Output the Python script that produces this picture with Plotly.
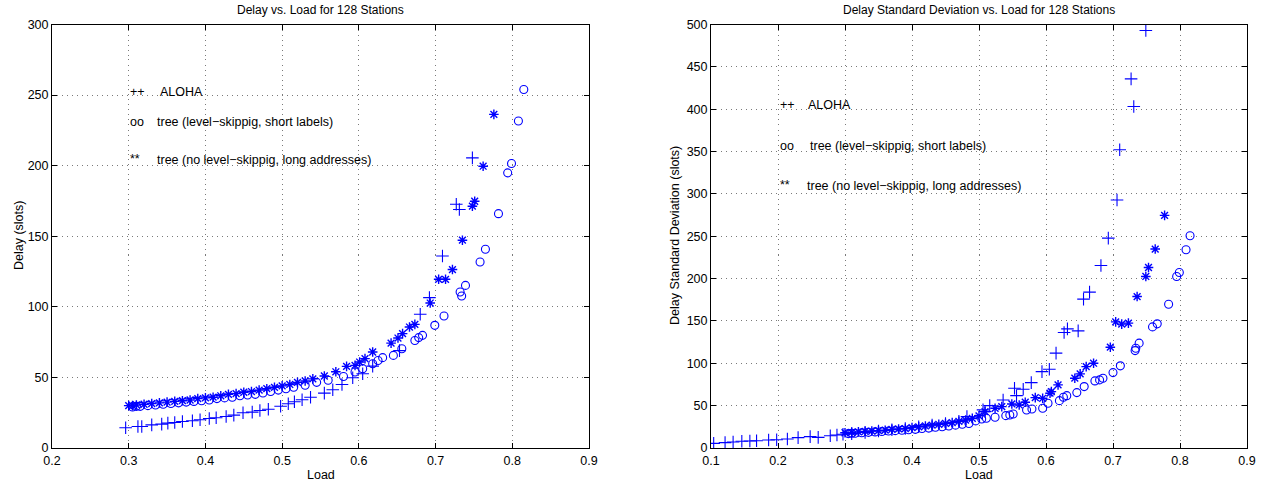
import plotly.graph_objects as go

# ---------------- Left panel: Delay vs Load ----------------
aloha_load_L = [0.296, 0.312, 0.317, 0.330, 0.343, 0.351, 0.360, 0.370, 0.383, 0.393, 0.405, 0.414,
                0.427, 0.437, 0.449, 0.461, 0.471, 0.482, 0.498, 0.508, 0.516, 0.526, 0.537, 0.555,
                0.566, 0.578, 0.592, 0.605, 0.618, 0.653, 0.680, 0.692, 0.709, 0.727, 0.731, 0.748]
aloha_delay_L = [14.3, 15.2, 15.2, 16.4, 16.9, 17.6, 18.1, 18.8, 19.3, 20.0, 20.9, 21.4,
                 22.3, 23.3, 25.0, 25.4, 26.6, 27.5, 29.6, 31.3, 32.8, 34.2, 36.0, 38.9,
                 41.3, 45.0, 49.8, 52.6, 58.0, 69.0, 94.7, 106.5, 136.0, 172.7, 169.0, 205.5]

skip_load_L = [0.305, 0.31, 0.315, 0.325, 0.335, 0.345, 0.355, 0.365, 0.375, 0.385, 0.395, 0.405,
               0.415, 0.425, 0.435, 0.445, 0.455, 0.465, 0.475, 0.485, 0.495, 0.505, 0.515, 0.53,
               0.545, 0.56, 0.58, 0.595, 0.605, 0.618, 0.625, 0.631, 0.645, 0.656, 0.673, 0.678,
               0.683, 0.699, 0.711, 0.732, 0.734, 0.739, 0.758, 0.765, 0.782, 0.794, 0.799, 0.808, 0.815]
skip_delay_L = [29, 29.5, 29.5, 30, 30.5, 31, 31.5, 32, 32.5, 33, 33.5, 34,
                35, 35.5, 36, 37, 37.5, 38, 39, 40, 41, 42, 43, 44.5,
                46.5, 48, 50.7, 53.8, 56.2, 59.7, 62, 64, 65.6, 70.3, 76.2, 78.2,
                79.8, 86.9, 93.5, 110.5, 107.7, 115.2, 131.8, 140.8, 166, 194.9, 201.5, 231.6, 254]

noskip_load_L = [0.30, 0.305, 0.31, 0.32, 0.33, 0.34, 0.35, 0.36, 0.37, 0.38, 0.39, 0.40,
                 0.41, 0.42, 0.43, 0.44, 0.45, 0.46, 0.47, 0.48, 0.49, 0.50, 0.51, 0.52,
                 0.53, 0.54, 0.555, 0.57, 0.584, 0.595, 0.601, 0.608, 0.618, 0.642, 0.651, 0.657,
                 0.666, 0.673, 0.693, 0.704, 0.713, 0.722, 0.735, 0.748, 0.751, 0.762, 0.776]
noskip_delay_L = [30, 30, 30.5, 31, 31.5, 32, 32.5, 33, 33.5, 34, 35, 35.5,
                  36, 37, 38, 38.5, 39.5, 40, 41, 42, 43, 44, 45, 46.5,
                  47.5, 49, 51, 54, 57.8, 58.5, 60.9, 63.3, 68, 74.3, 77.9, 81,
                  85.7, 87.6, 102.7, 119.5, 119.5, 126.4, 147.2, 171.3, 174.8, 199.6, 236.3]

# ---------------- Right panel: Delay std vs Load ----------------
aloha_load_R = [0.104, 0.121, 0.133, 0.146, 0.158, 0.168, 0.186, 0.198, 0.214, 0.230, 0.248, 0.260,
                0.278, 0.288, 0.297, 0.31, 0.33, 0.35, 0.37, 0.39, 0.41, 0.43, 0.45, 0.47, 0.482,
                0.506, 0.509, 0.516, 0.536, 0.553, 0.556, 0.566, 0.578, 0.594, 0.605, 0.615, 0.627,
                0.632, 0.648, 0.656, 0.665, 0.682, 0.693, 0.706, 0.710, 0.727, 0.731, 0.749]
aloha_std_R = [5.5, 6.3, 7.1, 7.9, 8.3, 8.6, 9.5, 9.8, 10.6, 12.2, 13.4, 12.6,
               14.5, 15.4, 16.2, 17, 18.5, 20, 21.5, 23, 25, 27, 29, 31.5, 37,
               45, 43, 50, 56.7, 70.6, 61.8, 69.4, 77.2, 90.2, 93, 112, 136.3,
               140.7, 138.3, 175.8, 184, 215.5, 247.8, 292.8, 352.2, 435.8, 403.1, 492.9]

skip_load_R = [0.305, 0.31, 0.315, 0.325, 0.335, 0.345, 0.355, 0.365, 0.375, 0.385, 0.395, 0.405,
               0.415, 0.425, 0.435, 0.445, 0.455, 0.465, 0.475, 0.485, 0.495, 0.504, 0.511, 0.524,
               0.540, 0.546, 0.551, 0.571, 0.579, 0.595, 0.603, 0.620, 0.626, 0.631, 0.646, 0.657,
               0.673, 0.680, 0.685, 0.700, 0.711, 0.733, 0.734, 0.739, 0.759, 0.766, 0.783, 0.795,
               0.799, 0.809, 0.815]
skip_std_R = [17, 17.5, 17.5, 18, 18.5, 19, 19.5, 20, 20.5, 21, 21.5, 22,
              23, 23.5, 24.5, 25, 26, 27, 28, 29, 32, 34.3, 35.1, 36.3,
              38.2, 39, 40.2, 44.9, 46.1, 46.9, 52.8, 55.9, 59.9, 61.8, 65.4, 72.5,
              79.2, 80.4, 82.4, 89, 97, 115, 117.8, 123.8, 143, 146.6, 169.8, 202.5,
              207.2, 234, 250.6]

noskip_load_R = [0.30, 0.31, 0.32, 0.33, 0.34, 0.35, 0.36, 0.37, 0.38, 0.39, 0.40, 0.41,
                 0.42, 0.43, 0.44, 0.45, 0.46, 0.47, 0.48, 0.49, 0.50, 0.509, 0.524, 0.534,
                 0.549, 0.560, 0.569, 0.584, 0.595, 0.606, 0.608, 0.618, 0.643, 0.651, 0.660, 0.671,
                 0.696, 0.704, 0.713, 0.723, 0.736, 0.749, 0.753, 0.763, 0.777]
noskip_std_R = [18, 18.5, 19, 19.5, 20, 20.5, 21, 22, 22.5, 23, 24, 25,
                26, 27, 28, 29, 30, 31.5, 33, 35, 38, 42.9, 46.9, 48.8,
                52, 50.8, 54, 59.5, 58.7, 64.7, 66.6, 74.5, 82.4, 87.5, 96.1, 100.1,
                119, 148.9, 146.2, 147.4, 178.8, 202.5, 213.1, 234.9, 274.6]

x_ticks_L = [0.2, 0.3, 0.4, 0.5, 0.6, 0.7, 0.8, 0.9]
y_ticks_L = [0, 50, 100, 150, 200, 250, 300]
x_ticks_R = [0.1, 0.2, 0.3, 0.4, 0.5, 0.6, 0.7, 0.8, 0.9]
y_ticks_R = [0, 50, 100, 150, 200, 250, 300, 350, 400, 450, 500]

BLUE = "rgb(0,0,255)"
FONT = "Liberation Sans, Arial, Helvetica, sans-serif"

fig = go.Figure()

def add_series(x, y, symbol, xa, ya, size, lw):
    fig.add_trace(go.Scatter(
        x=x, y=y, mode="markers", xaxis=xa, yaxis=ya, showlegend=False,
        marker=dict(symbol=symbol, size=size, color=BLUE,
                    line=dict(color=BLUE, width=lw))))

add_series(aloha_load_L, aloha_delay_L, "cross-thin-open", "x", "y", 9, 1.1)
add_series(skip_load_L, skip_delay_L, "circle-open", "x", "y", 8, 1.1)
add_series(noskip_load_L, noskip_delay_L, "asterisk-open", "x", "y", 8, 1.4)
add_series(aloha_load_R, aloha_std_R, "cross-thin-open", "x2", "y2", 9, 1.1)
add_series(skip_load_R, skip_std_R, "circle-open", "x2", "y2", 8, 1.1)
add_series(noskip_load_R, noskip_std_R, "asterisk-open", "x2", "y2", 8, 1.4)

W, H = 1264, 487
axis_common = dict(showline=True, linecolor="black", linewidth=1, mirror="ticks",
                   ticks="inside", ticklen=5, tickcolor="black", tickwidth=1,
                   showgrid=True, gridcolor="#7a7a7a", griddash="1px,4px", gridwidth=1,
                   zeroline=False, automargin=False, ticklabeloverflow="allow",
                   tickfont=dict(family=FONT, size=12.5, color="black"))

y_dom = [39 / H, 462.5 / H]
fig.update_layout(
    width=W, height=H, margin=dict(l=0, r=0, t=0, b=0),
    paper_bgcolor="white", plot_bgcolor="white",
    xaxis=dict(domain=[52 / W, 589 / W], range=[0.2, 0.9], tickvals=x_ticks_L,
               ticktext=[f"{v:g}" for v in x_ticks_L], anchor="y", ticklabelstandoff=1, **axis_common),
    yaxis=dict(domain=y_dom, range=[0, 300], tickvals=y_ticks_L, anchor="x", **axis_common),
    xaxis2=dict(domain=[711 / W, 1247 / W], range=[0.1, 0.9], tickvals=x_ticks_R,
                ticktext=[f"{v:g}" for v in x_ticks_R], anchor="y2", ticklabelstandoff=1, **axis_common),
    yaxis2=dict(domain=y_dom, range=[0, 500], tickvals=y_ticks_R, anchor="x2", **axis_common),
)

def txt(x, y, s, xref="paper", yref="paper", xanchor="center", size=12, angle=0, yanchor="middle"):
    fig.add_annotation(x=x, y=y, xref=xref, yref=yref, text=s, showarrow=False,
                       xanchor=xanchor, yanchor=yanchor, textangle=angle,
                       font=dict(family=FONT, size=size, color="black"))

# titles
txt((52 + 589) / 2 / W, 1 - 10 / H, "Delay vs. Load for 128 Stations", size=12)
txt((711 + 1247) / 2 / W, 1 - 10 / H, "Delay Standard Deviation vs. Load for 128 Stations", size=12)
# axis titles
txt((52 + 589) / 2 / W, 1 - 475 / H, "Load", size=12.5)
txt((711 + 1247) / 2 / W, 1 - 475 / H, "Load", size=12.5)
txt(19 / W, 1 - 236 / H, "Delay (slots)", size=12.5, angle=-90)
txt(675 / W, 1 - 236 / H, "Delay Standard Deviation (slots)", size=12.5, angle=-90)

# in-plot legend text (left)
txt(0.299, 252, "++", "x", "y", "left", 12.5)
txt(0.338, 252, "ALOHA", "x", "y", "left", 12.5)
txt(0.299, 231, "oo", "x", "y", "left", 12.5)
txt(0.334, 231, "tree (level\u2212skippig, short labels)", "x", "y", "left", 12.5)
txt(0.299, 205, "**", "x", "y", "left", 12.5)
txt(0.334, 204, "tree (no level\u2212skippig, long addresses)", "x", "y", "left", 12.5)

# in-plot legend text (right)
txt(0.200, 405, "++", "x2", "y2", "left", 12.5)
txt(0.2418, 405, "ALOHA", "x2", "y2", "left", 12.5)
txt(0.200, 356, "oo", "x2", "y2", "left", 12.5)
txt(0.2448, 356, "tree (level\u2212skippig, short labels)", "x2", "y2", "left", 12.5)
txt(0.200, 311, "**", "x2", "y2", "left", 12.5)
txt(0.2400, 309, "tree (no level\u2212skippig, long addresses)", "x2", "y2", "left", 12.5)

fig.write_html("out.html", config={"displayModeBar": False},
               post_script="document.body.style.margin='0px';document.body.style.overflow='hidden';")
